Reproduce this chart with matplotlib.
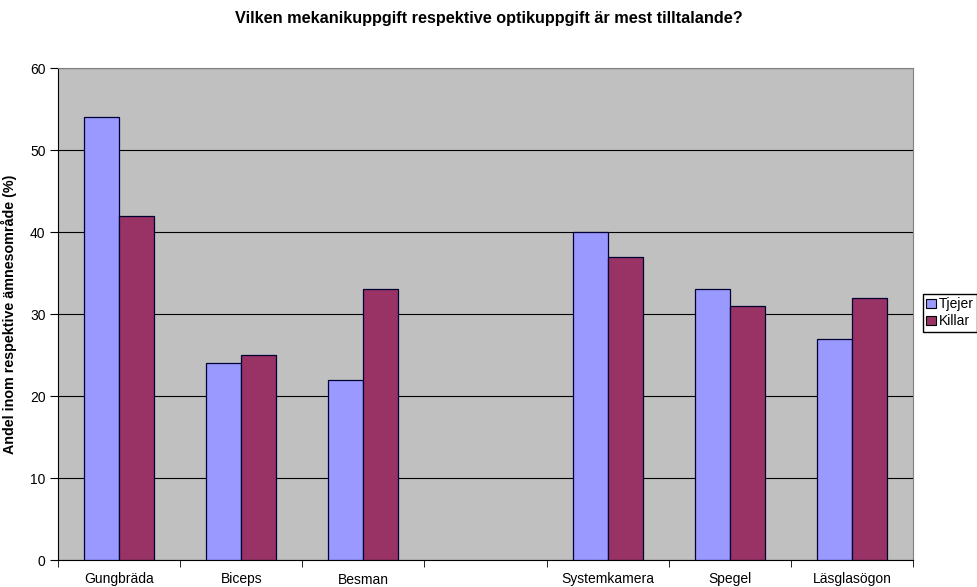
import numpy as np
import matplotlib.pyplot as plt
from matplotlib.patches import Patch

plt.rcParams['font.family'] = ['Liberation Sans', 'DejaVu Sans']

kategorier = ["Gungbräda", "Biceps", "Besman", "", "Systemkamera", "Spegel", "Läsglasögon"]
tjejer = [54, 24, 22, np.nan, 40, 33, 27]
killar = [42, 25, 33, np.nan, 37, 31, 32]

fig = plt.figure(figsize=(9.77, 5.87), dpi=100)
ax = fig.add_axes([58 / 977, 27 / 587, 855 / 977, 492 / 587])
ax.set_facecolor("#c0c0c0")

x = np.arange(len(kategorier))
w = 0.287
ax.bar(x - w / 2, tjejer, w, color="#9999ff", edgecolor="#000033", linewidth=0.9, zorder=3)
ax.bar(x + w / 2, killar, w, color="#993366", edgecolor="#000033", linewidth=0.9, zorder=3)

ax.set_xlim(-0.5, len(kategorier) - 0.5)
ax.set_ylim(0, 60)
ax.set_yticks(range(0, 61, 10))
ax.yaxis.grid(True, color="black", linewidth=0.8, zorder=1)
ax.set_axisbelow(True)

# kategorinamn mitt i varje fack, streck mellan facken
ax.set_xticks(x)
ax.set_xticklabels(kategorier, fontsize=10)
ax.tick_params(axis="x", length=0, pad=9)
ax.set_xticks(np.arange(-0.5, len(kategorier)), minor=True)
ax.tick_params(axis="x", which="minor", length=5, direction="out")
ax.tick_params(axis="y", labelsize=10, length=6, direction="out", pad=3)

for s in ["top", "right"]:
    ax.spines[s].set_color("#808080")
    ax.spines[s].set_linewidth(0.8)

ax.set_ylabel("Andel inom respektive ämnesområde (%)", fontsize=10.3, fontweight="bold")
ax.yaxis.set_label_coords(-41 / 855, 0.5)
fig.text(0.5, 1 - 19 / 587, "Vilken mekanikuppgift respektive optikuppgift är mest tilltalande?",
         ha="center", va="center", fontsize=11.7, fontweight="bold")

handles = [Patch(facecolor="#9999ff", edgecolor="black", linewidth=0.8),
           Patch(facecolor="#993366", edgecolor="black", linewidth=0.8)]
fig.legend(handles, ["Tjejer", "Killar"], loc="upper left",
           bbox_to_anchor=(923 / 977, 1 - 294 / 587), fontsize=10,
           fancybox=False, edgecolor="black", framealpha=1,
           handlelength=0.7, handleheight=0.7, handletextpad=0.2,
           borderpad=0.25, labelspacing=0.2, borderaxespad=0)

fig.savefig("out.png", dpi=100)
